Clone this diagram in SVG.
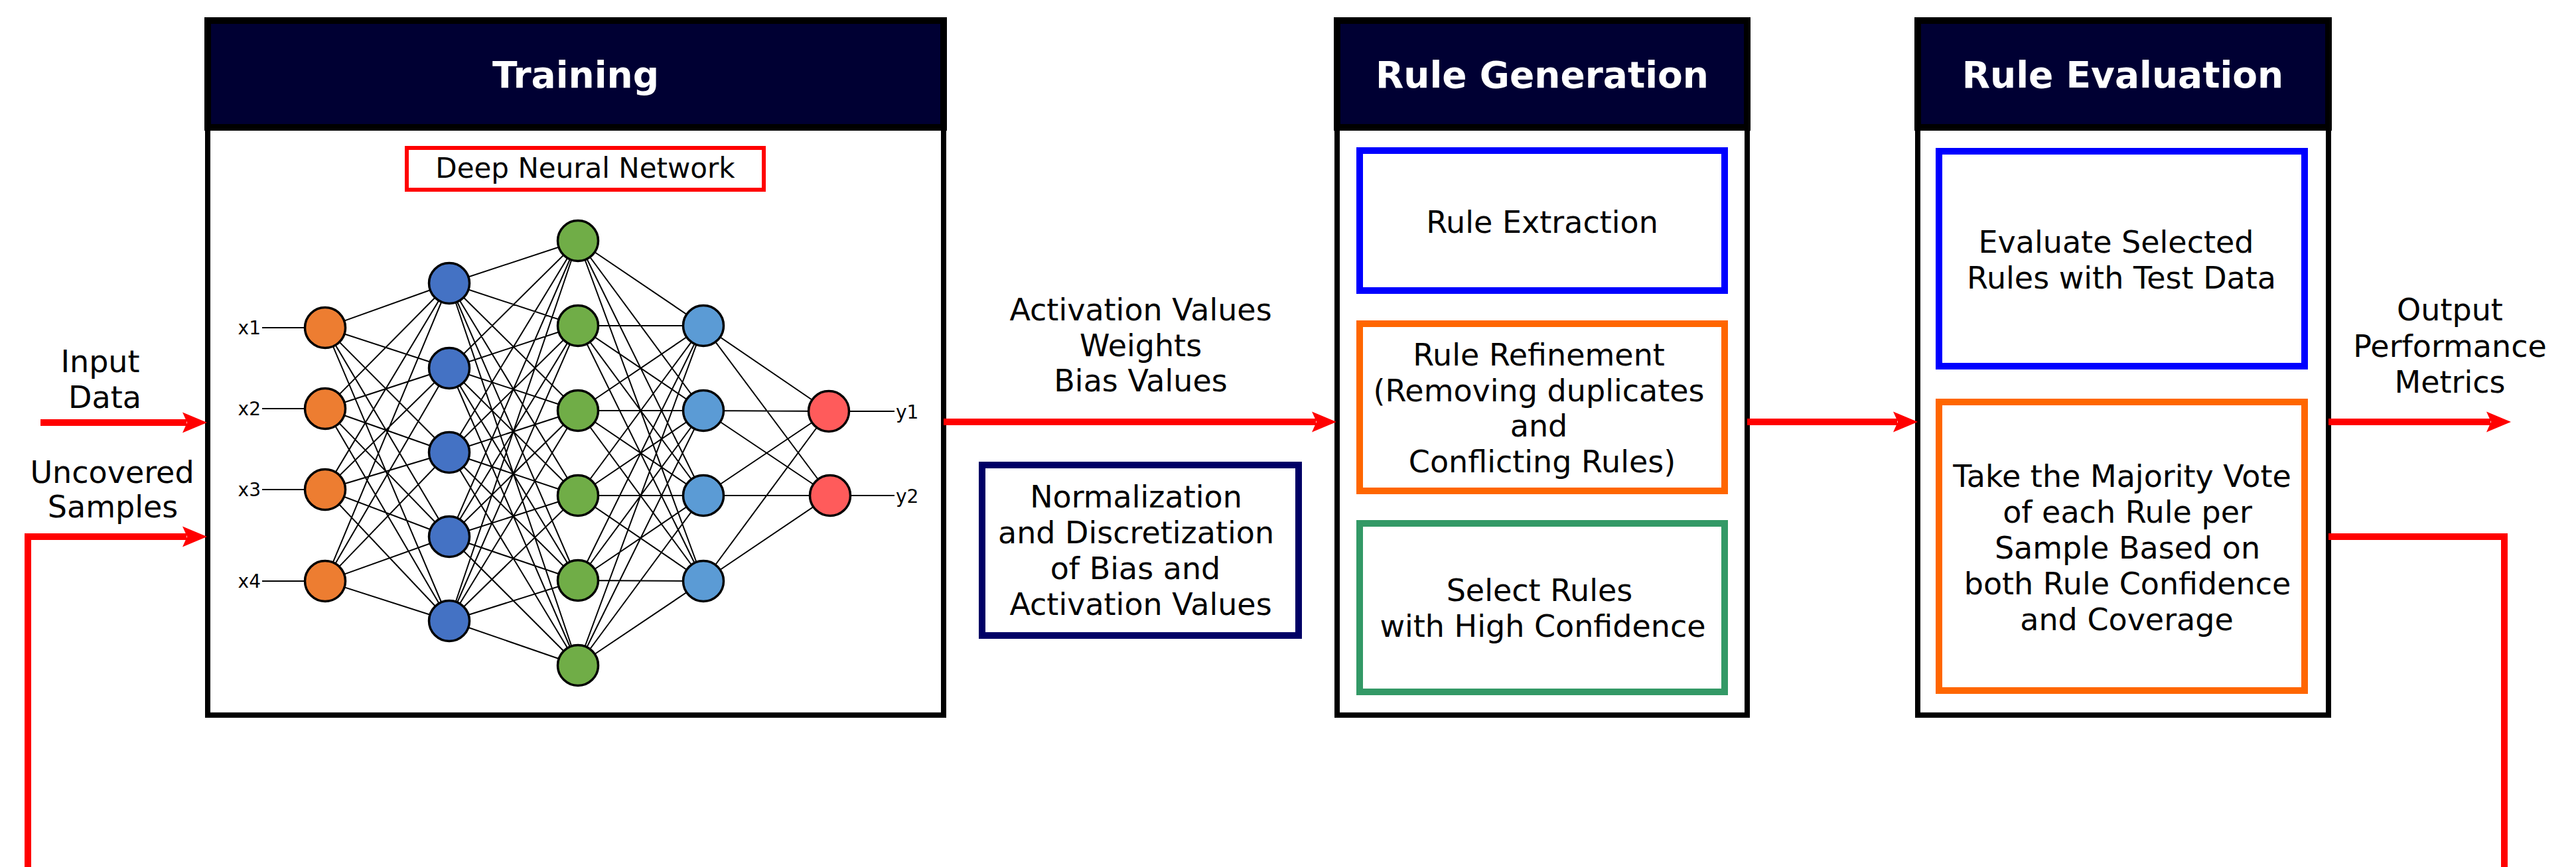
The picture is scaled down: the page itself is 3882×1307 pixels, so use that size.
<svg xmlns="http://www.w3.org/2000/svg" width="3882" height="1307" viewBox="0 0 3882 1307">
  <style>
    text { font-family: "DejaVu Sans", "Liberation Sans", sans-serif; fill: #000; }
    .t { font-size: 46px; text-anchor: middle; }
    .lbl { font-size: 28px; }
    .hd { fill: #000033; stroke: #000; stroke-width: 10; }
    .hdt { font-size: 55px; font-weight: bold; fill: #fff; text-anchor: middle; }
    .body { fill: #fff; stroke: #000; stroke-width: 8; }
    .flow { fill: none; stroke: #f00; stroke-width: 10; }
    .edge { fill: none; stroke: #000; stroke-width: 2; }
    .n { stroke: #000; stroke-width: 3.5; }
    .in { fill: #ED7D31; }
    .h1 { fill: #4472C4; }
    .h2 { fill: #70AD47; }
    .h3 { fill: #5B9BD5; }
    .out { fill: #FF5B5B; }
    .inner { fill: none; stroke-width: 10; }
  </style>
  <defs>
    <marker id="arrow" markerUnits="userSpaceOnUse" viewBox="-10 -17 44 34" markerWidth="44" markerHeight="34" refX="0" refY="0" orient="auto" overflow="visible">
      <path d="M31,0 L-6,-15.5 L1,0 L-6,15.5 Z" fill="#f00"/>
    </marker>
  </defs>

  <rect x="0" y="0" width="3882" height="1307" fill="#fff"/>

  <!-- Training stage with the neural network sketch -->
  <g id="training">
    <rect class="body" x="313" y="192" width="1109" height="886"/>
    <rect class="hd" x="313" y="31" width="1109" height="161"/>
    <text class="hdt" x="867.5" y="132">Training</text>
    <rect x="613" y="223" width="538" height="63" fill="none" stroke="#f00" stroke-width="6"/>
    <text x="882" y="268" font-size="42" text-anchor="middle">Deep Neural Network</text>

    <g id="dnn-edges" class="edge">
      <path d="M395 494H460M395 616H460M395 738H460M395 876H460M1280 620H1348M1282 747H1348
M490 494L677 427M490 494L677 555M490 494L677 682M490 494L677 809M490 494L677 936
M490 616L677 427M490 616L677 555M490 616L677 682M490 616L677 809M490 616L677 936
M490 738L677 427M490 738L677 555M490 738L677 682M490 738L677 809M490 738L677 936
M490 876L677 427M490 876L677 555M490 876L677 682M490 876L677 809M490 876L677 936
M677 427L871 363M677 427L871 491M677 427L871 619M677 427L871 747M677 427L871 875M677 427L871 1003
M677 555L871 363M677 555L871 491M677 555L871 619M677 555L871 747M677 555L871 875M677 555L871 1003
M677 682L871 363M677 682L871 491M677 682L871 619M677 682L871 747M677 682L871 875M677 682L871 1003
M677 809L871 363M677 809L871 491M677 809L871 619M677 809L871 747M677 809L871 875M677 809L871 1003
M677 936L871 363M677 936L871 491M677 936L871 619M677 936L871 747M677 936L871 875M677 936L871 1003
M871 363L1060 491M871 363L1060 619M871 363L1060 747M871 363L1060 876
M871 491L1060 491M871 491L1060 619M871 491L1060 747M871 491L1060 876
M871 619L1060 491M871 619L1060 619M871 619L1060 747M871 619L1060 876
M871 747L1060 491M871 747L1060 619M871 747L1060 747M871 747L1060 876
M871 875L1060 491M871 875L1060 619M871 875L1060 747M871 875L1060 876
M871 1003L1060 491M871 1003L1060 619M871 1003L1060 747M871 1003L1060 876
M1060 491L1249 620M1060 491L1251 747
M1060 619L1249 620M1060 619L1251 747
M1060 747L1249 620M1060 747L1251 747
M1060 876L1249 620M1060 876L1251 747"/>
    </g>

    <g id="dnn-nodes" class="n">
      <circle class="in" cx="490" cy="494" r="30.5"/>
      <circle class="in" cx="490" cy="616" r="30.5"/>
      <circle class="in" cx="490" cy="738" r="30.5"/>
      <circle class="in" cx="490" cy="876" r="30.5"/>
      <circle class="h1" cx="677" cy="427" r="30.5"/>
      <circle class="h1" cx="677" cy="555" r="30.5"/>
      <circle class="h1" cx="677" cy="682" r="30.5"/>
      <circle class="h1" cx="677" cy="809" r="30.5"/>
      <circle class="h1" cx="677" cy="936" r="30.5"/>
      <circle class="h2" cx="871" cy="363" r="30.5"/>
      <circle class="h2" cx="871" cy="491" r="30.5"/>
      <circle class="h2" cx="871" cy="619" r="30.5"/>
      <circle class="h2" cx="871" cy="747" r="30.5"/>
      <circle class="h2" cx="871" cy="875" r="30.5"/>
      <circle class="h2" cx="871" cy="1003" r="30.5"/>
      <circle class="h3" cx="1060" cy="491" r="30.5"/>
      <circle class="h3" cx="1060" cy="619" r="30.5"/>
      <circle class="h3" cx="1060" cy="747" r="30.5"/>
      <circle class="h3" cx="1060" cy="876" r="30.5"/>
      <circle class="out" cx="1249" cy="620" r="30.5"/>
      <circle class="out" cx="1251" cy="747" r="30.5"/>
    </g>

    <g id="dnn-labels" class="lbl">
      <text x="393" y="504" text-anchor="end">x1</text>
      <text x="393" y="626" text-anchor="end">x2</text>
      <text x="393" y="748" text-anchor="end">x3</text>
      <text x="393" y="886" text-anchor="end">x4</text>
      <text x="1350" y="631">y1</text>
      <text x="1350" y="758">y2</text>
    </g>
  </g>

  <!-- Preprocessing step between training and rule generation -->
  <g id="normalization">
    <rect x="1480" y="701" width="477" height="257" fill="none" stroke="#000066" stroke-width="10"/>
    <text class="t" x="1712" y="765">Normalization</text>
    <text class="t" x="1712" y="819">and Discretization</text>
    <text class="t" x="1711" y="873">of Bias and</text>
    <text class="t" x="1719" y="927">Activation Values</text>
  </g>

  <!-- Rule generation stage -->
  <g id="rule-generation">
    <rect class="body" x="2015" y="192" width="618" height="886"/>
    <rect class="hd" x="2015" y="31" width="618" height="161"/>
    <text class="hdt" x="2324" y="132">Rule Generation</text>
    <g id="rule-extraction">
      <rect class="inner" x="2049" y="227" width="550" height="211" stroke="#0000FF"/>
      <text class="t" x="2324" y="351">Rule Extraction</text>
    </g>
    <g id="rule-refinement">
      <rect class="inner" x="2049" y="488" width="550" height="252" stroke="#FF6600"/>
      <text class="t" x="2319" y="551">Rule Refinement</text>
      <text class="t" x="2319" y="605">(Removing duplicates</text>
      <text class="t" x="2319" y="658">and</text>
      <text class="t" x="2324" y="712">Conflicting Rules)</text>
    </g>
    <g id="rule-selection">
      <rect class="inner" x="2049" y="789" width="550" height="254" stroke="#339966"/>
      <text class="t" x="2320" y="906">Select Rules</text>
      <text class="t" x="2325" y="960">with High Confidence</text>
    </g>
  </g>

  <!-- Rule evaluation stage -->
  <g id="rule-evaluation">
    <rect class="body" x="2890" y="192" width="619" height="886"/>
    <rect class="hd" x="2890" y="31" width="619" height="161"/>
    <text class="hdt" x="3199" y="132">Rule Evaluation</text>
    <g id="evaluate-rules">
      <rect class="inner" x="2922" y="228" width="551" height="324" stroke="#0000FF"/>
      <text class="t" x="3189" y="381">Evaluate Selected</text>
      <text class="t" x="3197" y="435">Rules with Test Data</text>
    </g>
    <g id="majority-vote">
      <rect class="inner" x="2922" y="606" width="551" height="435" stroke="#FF6600"/>
      <text class="t" x="3198" y="734">Take the Majority Vote</text>
      <text class="t" x="3206" y="788">of each Rule per</text>
      <text class="t" x="3206" y="842">Sample Based on</text>
      <text class="t" x="3206" y="896">both Rule Confidence</text>
      <text class="t" x="3205" y="950">and Coverage</text>
    </g>
  </g>

  <!-- Data flow between the stages -->
  <g id="connectors">
    <path class="flow" d="M61 637H281" marker-end="url(#arrow)"/>
    <path class="flow" d="M42 1312V809H281" marker-end="url(#arrow)"/>
    <path class="flow" d="M1422 636H1983" marker-end="url(#arrow)"/>
    <path class="flow" d="M2633 636H2859" marker-end="url(#arrow)"/>
    <path class="flow" d="M3509 636H3753" marker-end="url(#arrow)"/>
    <path class="flow" d="M3509 809H3774V1312"/>
  </g>

  <!-- Connector labels -->
  <g id="flow-labels" class="t">
    <text x="151" y="561">Input</text>
    <text x="158" y="615">Data</text>
    <text x="169" y="728">Uncovered</text>
    <text x="170" y="780">Samples</text>
    <text x="1719" y="483">Activation Values</text>
    <text x="1719" y="537">Weights</text>
    <text x="1719" y="590">Bias Values</text>
    <text x="3692" y="483">Output</text>
    <text x="3692" y="538">Performance</text>
    <text x="3692" y="592">Metrics</text>
  </g>
</svg>
